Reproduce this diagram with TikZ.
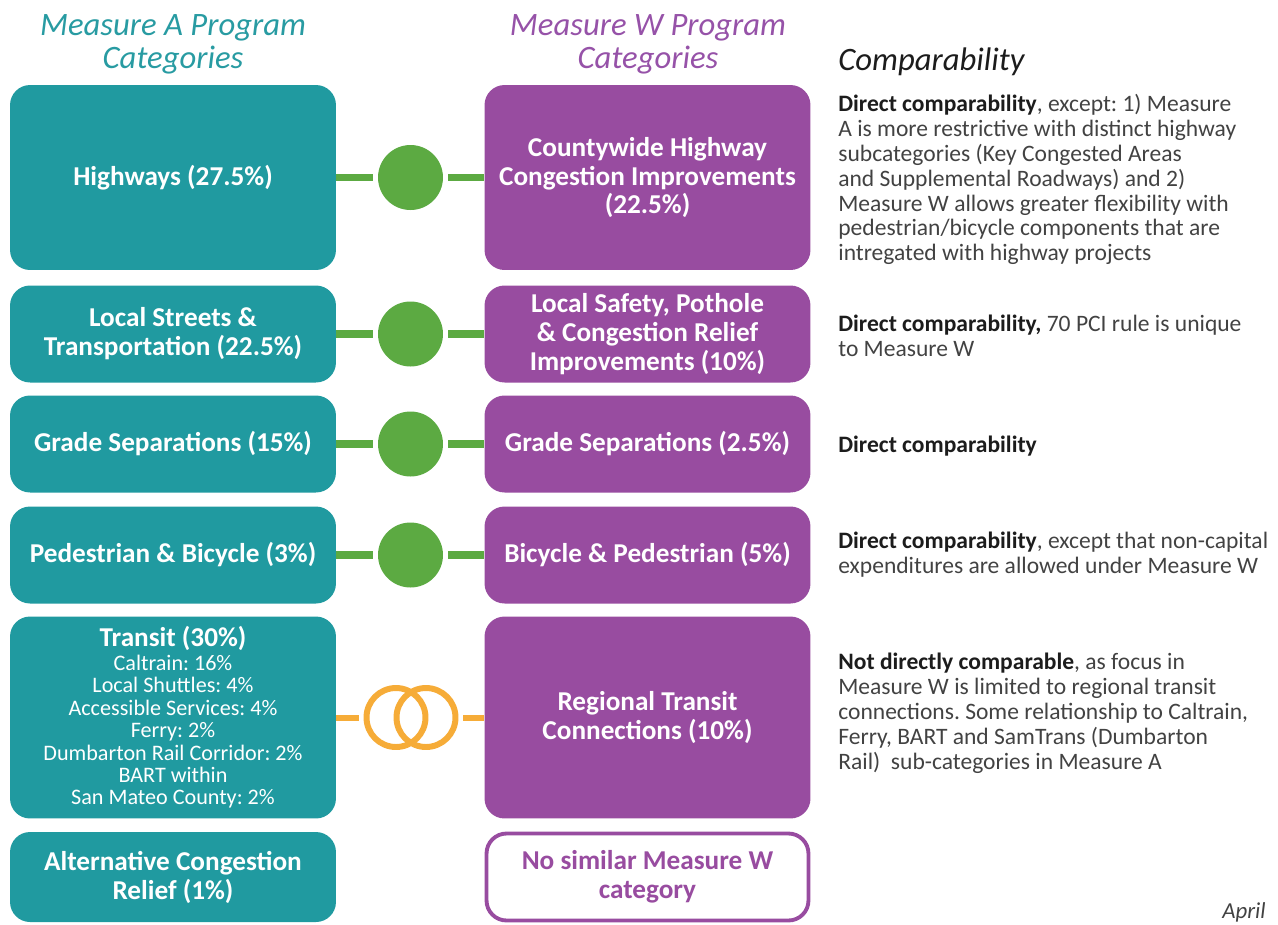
\documentclass[tikz,border=0pt]{standalone}
\usepackage{fontspec}
\setmainfont{Carlito}
\frenchspacing
\definecolor{mteal}{RGB}{32,154,160}
\definecolor{mpurple}{RGB}{152,76,160}
\definecolor{headteal}{RGB}{40,155,162}
\definecolor{headpurple}{RGB}{150,82,168}
\definecolor{dotgreen}{RGB}{92,170,66}
\definecolor{ringorange}{RGB}{246,172,56}
\definecolor{notegray}{RGB}{66,66,66}
\definecolor{notedark}{RGB}{28,28,28}
\begin{document}
\begin{tikzpicture}[x=0.02cm,y=-0.02cm,
  abox/.style={fill=mteal,rounded corners=0.4cm,minimum width=6.52cm,inner sep=2pt,
    text=white,align=center,font=\fontsize{15.5pt}{16.5pt}\selectfont\bfseries},
  wbox/.style={abox,fill=mpurple},
  dot/.style={circle,fill=dotgreen,minimum size=1.3cm,inner sep=0pt},
  ring/.style={circle,draw=ringorange,line width=3.4pt,minimum size=1.18cm,inner sep=0pt},
  link/.style={draw=dotgreen,line width=4pt},
  ringlink/.style={draw=ringorange,line width=3.4pt},
  head/.style={align=center,font=\fontsize{18.6pt}{18.7pt}\selectfont\itshape},
  note/.style={anchor=west,inner sep=0pt,align=left,text=notegray,
    font=\fontsize{13.4pt}{14.2pt}\selectfont}]
\useasboundingbox (0,0) rectangle (1278,924);

% column headings
\node[head,text=headteal] (headA) at (173,44) {Measure A Program\\Categories};
\node[head,text=headpurple] (headW) at (648,44) {Measure W Program\\Categories};
\node[head,anchor=west,inner sep=0pt,text=notedark] (headC) at (838,62) {Comparability};

% Measure A boxes
\node[abox,minimum height=3.7cm] (hwyA) at (173,177.5) {Highways (27.5\%)};
\node[abox,minimum height=1.94cm] (streetA) at (173,334) {Local Streets \&\\Transportation (22.5\%)};
\node[abox,minimum height=1.94cm] (gradeA) at (173,444) {Grade Separations (15\%)};
\node[abox,minimum height=1.94cm] (bikeA) at (173,555) {Pedestrian \& Bicycle (3\%)};
\node[abox,minimum height=4.04cm,font=\fontsize{12.6pt}{12.8pt}\selectfont] (transitA) at (173,717.5)
  {{\fontsize{15.5pt}{16pt}\selectfont\bfseries Transit (30\%)}\\[0.5pt]
  Caltrain: 16\%\\Local Shuttles: 4\%\\Accessible Services: 4\%\\Ferry: 2\%\\
  Dumbarton Rail Corridor: 2\%\\BART within\\San Mateo County: 2\%};
\node[abox,minimum height=1.8cm] (altA) at (173,877) {Alternative Congestion\\Relief (1\%)};

% Measure W boxes
\node[wbox,minimum height=3.7cm] (hwyW) at (647.5,177.5) {Countywide Highway\\Congestion Improvements\\(22.5\%)};
\node[wbox,minimum height=1.94cm] (streetW) at (647.5,334) {Local Safety, Pothole\\\& Congestion Relief\\Improvements (10\%)};
\node[wbox,minimum height=1.94cm] (gradeW) at (647.5,444) {Grade Separations (2.5\%)};
\node[wbox,minimum height=1.94cm] (bikeW) at (647.5,555) {Bicycle \& Pedestrian (5\%)};
\node[wbox,minimum height=4.04cm] (transitW) at (647.5,717.5) {Regional Transit\\Connections (10\%)};
\node[wbox,fill=white,draw=mpurple,line width=2.2pt,text=mpurple,minimum width=6.44cm,
  minimum height=1.74cm] (altW) at (647.5,877) {No similar Measure W\\category};

% links
\node[dot] (hwyD) at (410.5,177.5) {};
\node[dot] (streetD) at (410.5,334) {};
\node[dot] (gradeD) at (410.5,444) {};
\node[dot] (bikeD) at (410.5,555) {};
\foreach \r in {hwy,street,grade,bike}
{
    \draw[link,shorten >=0.1cm] (\r A.east) -- (\r D);
    \draw[link,shorten <=0.1cm] (\r D) -- (\r W.west);
}
\node[ring] (ringL) at (396,717.5) {};
\node[ring] (ringR) at (426,717.5) {};
\draw[ringlink,shorten >=0.1cm] (transitA.east) -- (ringL.west);
\draw[ringlink,shorten <=0.1cm] (ringR.east) -- (transitW.west);

% comparability notes
\node[note] (hwyN) at (838,179.5) {\textcolor{notedark}{\bfseries Direct comparability}, except: 1) Measure\\
  A is more restrictive with distinct highway\\subcategories (Key Congested Areas\\
  and Supplemental Roadways) and 2)\\Measure W allows greater flexibility with\\
  pedestrian/bicycle components that are\\intregated with highway projects};
\node[note] (streetN) at (838,336) {\textcolor{notedark}{\bfseries Direct comparability,} 70 PCI rule is unique\\to Measure W};
\node[note] (gradeN) at (838,446) {\textcolor{notedark}{\bfseries Direct comparability}};
\node[note] (bikeN) at (838,554.5) {\textcolor{notedark}{\bfseries Direct comparability}, except that non-capital\\
  expenditures are allowed under Measure W};
\node[note] (transitN) at (838,713) {\textcolor{notedark}{\bfseries Not directly comparable}, as focus in\\
  Measure W is limited to regional transit\\connections. Some relationship to Caltrain,\\
  Ferry, BART and SamTrans (Dumbarton\\Rail)\ \ sub-categories in Measure A};

\node[anchor=west,inner sep=0pt,text=notegray,font=\fontsize{13pt}{14pt}\selectfont\itshape] (date) at (1222,912) {April};
\end{tikzpicture}
\end{document}
